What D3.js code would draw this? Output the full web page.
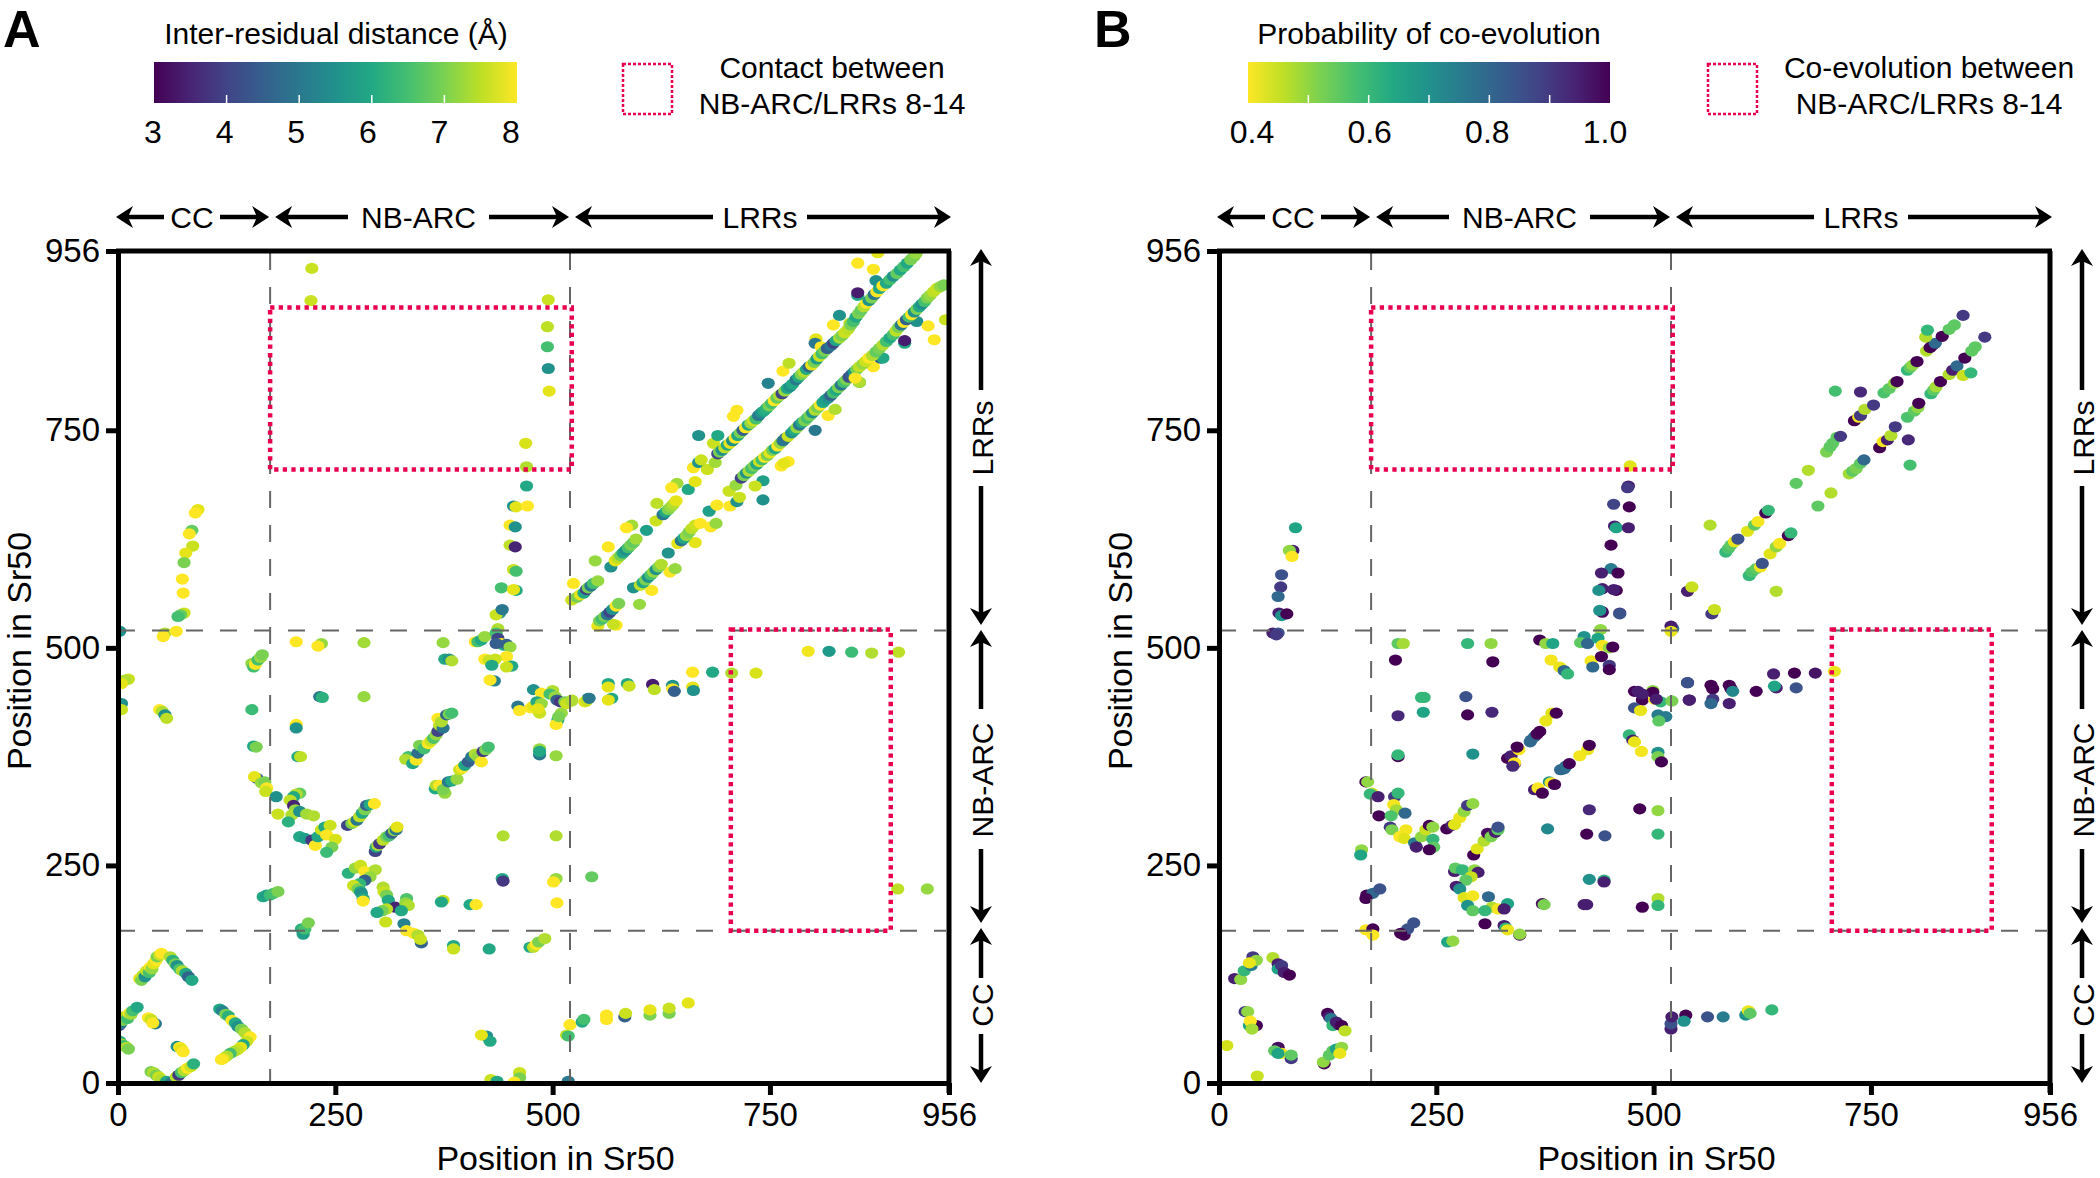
<!DOCTYPE html>
<html lang="en">
<head>
<meta charset="UTF-8">
<script src="https://cdnjs.cloudflare.com/ajax/libs/d3/7.8.5/d3.min.js"></script>
<title>Sr50 contact and co-evolution maps</title>
<style>
  html, body { margin: 0; padding: 0; background: #fff; }
  text { font-family: "Liberation Sans", Arial, sans-serif; fill: #000; }
  .axis path, .axis line { stroke: #000; }
  .axis text { font-size: 33px; font-family: "Liberation Sans", Arial, sans-serif; }
</style>
</head>
<body>
<div id="chart"></div>
<script>
// tick labels and domain boundaries, residues
var axisTicks = [0, 250, 500, 750, 956];
var domainEdges = [175, 520];
var domainNames = ["CC", "NB-ARC", "LRRs"];
var distanceTicks = [3, 4, 5, 6, 7, 8];
var probabilityTicks = [0.4, 0.6, 0.8, 1.0];
var probabilityMinor = [0.5, 0.6, 0.7, 0.8, 0.9];
var boxTop = [175, 522, 705, 891];    // NB-ARC vs LRRs 8-14
var boxRight = [705, 889, 175, 521];

// panel A, each point is [x, y, distance]
var distCcArch = [[25,120,7.8],[27,118,7],[29,124,7.5],[31,122,5.5],[33,129,7.6],[36,127,6.5],[37,133,8],[39,131,7.2],[41,137,7.8],[44,141,8],[45,145,7],[48,147,7.6],[50,149,8],[60,145,7.4],[63,141,6.2],[66,137,7],[68,135,5.5],[71,131,6.5],[74,129,7.4],[78,126,6],[81,122,4.6],[85,118,6]];
var distCcLeft = [[1,66,3.8],[3,68,5],[6,72,7],[9,77,7.5],[11,74,6.5],[13,80,8],[15,79,7.3],[17,83,6.5],[22,87,6],[2,48,6],[4,45,7.2],[7,43,6.5],[10,41,7.4],[12,39,7],[35,75,8],[38,73,7.6],[43,68,5],[40,69,8],[68,42,5.5],[71,41,8],[73,39,7.8],[75,36,8]];
var distCcBottom = [[38,13,7],[41,12,7.4],[44,9,7],[47,7,7.6],[50,4,7.4],[56,2,6],[62,1,5],[67,7,7.5],[70,9,3.8],[73,12,6.5],[76,14,7.4],[80,17,8],[84,19,7.6],[87,22,6.2]];
var distCcRight = [[117,85,6],[120,83,5.2],[124,79,7],[127,77,6.2],[131,72,8],[135,69,6],[138,65,5.5],[142,62,7],[146,58,7.4],[152,53,8],[148,48,7.6],[144,44,6],[141,41,7.8],[137,38,7.6],[133,36,7.4],[129,34,6.5],[125,31,7.4],[121,28,7.8],[119,27,8]];
var distUpperLeft = [[92,659,7.8],[89,655,8],[85,635,6.8],[82,631,8],[86,617,7.6],[78,609,7.8],[76,598,7],[74,579,8],[75,563,8],[76,540,7.6],[72,538,6.8],[69,536,6.5],[54,517,7.4],[52,513,8],[67,519,8],[2,519,5.5],[12,464,7.6],[8,463,7.4],[4,459,7.8],[4,436,5.5],[4,429,7.6],[48,429,8],[51,427,7.4],[54,423,5.5],[56,419,7.5]];
var distCcNb = [[154,482,7.2],[156,478,6.5],[158,481,8],[161,486,6.5],[164,489,7.2],[166,492,7],[154,429,6.4],[156,387,6],[159,386,7],[160,350,4.5],[157,352,7.8],[165,345,7.2],[169,346,7],[171,339,8],[170,335,7.6],[182,329,5.5],[184,309,7.6]];
var distChain1 = [[209,333,6.8],[205,332,7.4],[202,329,6],[198,325,7.5],[202,319,3.5],[204,314,7.2],[200,308,7.4],[196,300,6.2],[209,312,5.5],[217,309,7.3],[225,307,7.4],[209,283,6],[215,281,5.8],[223,279,3.8],[227,273,8],[230,283,6],[234,291,7.6],[238,294,6],[244,296,7.6],[240,285,8],[250,280,7.7],[246,271,7],[240,265,6.4]];
var distSeg2 = [[264,296,4],[269,298,7],[272,300,7.6],[275,302,5],[278,306,7.5],[281,310,6],[284,314,7],[286,319,4.5],[290,320,6],[295,321,8],[296,266,4],[297,271,6],[299,273,7.4],[301,275,3.8],[305,279,7.5],[309,283,7],[312,284,6.5],[315,287,4.5],[318,290,7.2],[320,291,5],[321,294,7.8]];
var distChain2 = [[265,241,6.2],[273,247,7.2],[279,250,7.6],[284,243,8],[296,245,7.4],[290,237,7.2],[284,233,4.5],[278,229,6.3],[271,227,7.6],[276,223,7],[279,220,6],[280,218,5.5],[282,212,6],[282,209,8],[305,225,7.4],[306,220,7.6],[309,216,7],[311,210,6],[319,202,3.5],[309,200,7.5],[304,198,7],[298,196,6],[308,185,7.6],[332,212,6.6],[331,207,7.2],[334,204,7.4],[326,198,6],[329,183,5.2],[332,175,8],[340,172,8],[345,170,7.4],[349,161,4.6],[348,165,7.6],[386,158,6],[386,154,7.6],[427,154,6],[474,156,6],[478,156,7.5],[481,159,8],[484,162,7],[491,166,7.4]];
var distNbSparse = [[205,507,8],[234,505,7.2],[230,502,8],[283,506,7.3],[232,444,5],[235,443,6.2],[283,444,7.2],[205,412,8],[205,408,5.5],[207,375,6],[210,375,7.5],[167,214,6],[171,216,5.8],[175,216,6.4],[179,218,6.5],[184,220,7],[211,177,6.2],[213,171,5.8],[215,177,6.5],[219,184,7],[374,210,7.6],[372,208,6],[405,205,6],[412,205,8],[443,284,7.4],[504,284,7.4],[442,235,6],[443,232,3.8],[504,235,7.2],[501,231,8],[545,237,6.8],[505,207,8],[424,54,5.5],[428,48,6],[418,55,7.8],[429,4,7.6],[436,2,6],[462,12,7.6],[462,6,7],[456,1,8],[518,2,5]];
var distBand1 = [[334,375,6.5],[331,372,7.4],[339,367,6],[343,371,8],[345,379,4.8],[347,388,7],[352,384,6.5],[357,390,8],[360,393,7.6],[363,396,6.6],[366,400,7.2],[368,404,4],[370,411,7.5],[374,408,5],[368,419,8],[372,415,7.4],[378,423,4.6],[381,424,7],[384,425,6.5]];
var distBand2 = [[365,338,6],[366,342,7.4],[370,342,8],[376,333,7.2],[374,337,7],[380,346,5],[384,347,6],[390,349,7.2],[393,360,7.6],[396,362,8],[399,365,6],[403,369,4.5],[407,375,5],[411,378,7.4],[414,375,7.2],[418,369,8],[420,381,3.8],[423,383,7],[426,386,6.5]];
var distNbLrrKnot = [[374,506,7.2],[376,487,6],[381,487,5.5],[384,485,7.4],[411,507,8],[414,507,6.5],[418,509,6],[422,513,7.2],[437,522,7.4],[435,517,6.5],[437,511,4],[441,505,8],[444,503,6],[447,504,4.5],[451,501,7.2],[447,490,8],[453,479,6],[447,478,7.6],[434,487,7.6],[422,487,8],[427,486,7.6],[430,480,6],[433,462,5.2],[428,463,8],[435,505,4.5],[439,540,5.5],[435,538,7.6],[442,544,5],[441,569,6.5],[455,590,7.6],[458,588,6.5],[451,618,7.5],[457,616,3.5],[451,641,8],[457,639,5.5],[455,663,5.5],[458,662,7.8],[471,663,8],[470,686,6],[470,708,7.4],[469,735,7.7],[458,566,6],[455,567,7.8],[495,900,7.6],[494,869,7.5],[494,846,6.5],[495,821,5.5],[496,795,7.8]];
var distNbKnot2 = [[478,452,5.5],[487,448,8],[500,451,7.4],[497,447,6.5],[503,444,7.2],[505,440,4.5],[509,438,3.8],[460,433,5],[462,428,8],[475,431,8],[478,433,7.8],[482,438,6],[487,436,7.2],[485,425,7.6],[483,430,7.8],[510,425,7.2],[506,417,6],[504,412,8],[507,421,7],[522,440,7.4],[514,438,7],[516,436,7.6],[541,442,5.2],[537,438,7.8],[485,384,7.2],[485,377,5],[485,381,6],[504,376,7.2],[522,439,7.4],[539,439,7.6],[542,442,5],[568,442,6],[564,440,7.8]];
var distNbTail = [[564,459,6],[564,455,7.8],[586,459,6],[588,456,7.6],[615,458,3.4],[617,452,7.5],[638,457,5.5],[638,453,8],[640,450,4.5],[661,472,8],[661,455,7.8],[662,451,5.5],[684,472,6],[706,471,7.4],[734,471,7.7],[794,496,7.9],[818,496,5.7],[844,495,6.4],[867,494,7.4],[898,495,7.5],[897,223,7.5],[931,223,7.2]];
var distCcTail = [[520,67,8],[516,55,7.5],[518,54,6.5],[534,70,6],[536,73,6.5],[562,78,8],[562,73,8],[583,76,4.5],[584,80,7.6],[612,78,7],[612,84,7.8],[634,80,7],[634,86,7.6],[656,92,7.8]];
var distLrrSparseTop = [[223,936,7.6],[222,899,7.6]];
var distLrrUpper = [[522,555,7.6],[524,574,8],[528,558,7],[532,561,7.8],[536,563,6],[539,567,4],[541,569,7],[544,571,5],[547,574,6.5],[552,577,7.2],[549,600,7.2],[564,616,8],[567,593,5.5],[572,600,7.8],[575,603,7.5],[578,606,7],[581,609,6],[584,612,5.5],[587,615,6.5],[590,618,7],[593,621,6.8],[596,625,7.3],[591,641,7.3],[585,638,8],[608,635,5.8],[619,646,7.6],[627,653,5],[630,656,6],[633,659,7],[636,662,7.2],[639,665,7.4],[642,669,7.8],[620,666,7.5],[643,689,7.3],[637,684,8],[656,682,6],[664,691,7.8],[662,707,8],[668,713,5.5],[671,716,7.6],[678,705,7.6],[687,713,7.3],[685,735,7.6],[668,744,5.5],[690,744,6],[690,723,4],[692,725,7],[695,727,5.5],[698,730,7.5],[701,733,6],[704,735,7.8],[707,738,5.5],[710,741,8],[713,744,6],[716,747,7],[719,750,4.5],[722,753,8],[725,756,6],[728,758,7.2],[731,761,7.6],[734,763,6.5],[737,767,5],[740,770,5.5],[743,772,6],[708,766,8],[712,773,8],[746,775,6.2],[749,778,7],[752,781,6.5],[755,784,8],[758,787,6.8],[761,790,7.4],[764,792,4],[767,795,7.2],[770,798,6],[773,800,5.5],[776,803,6],[748,804,5.2],[765,818,8],[772,827,7.5],[780,808,5],[783,811,6],[786,814,7],[789,817,7.4],[792,820,6],[795,823,4.6],[798,825,7.8],[801,828,7],[803,855,7.8],[802,850,5],[809,846,8],[804,832,5.8],[807,835,7.6],[810,838,6.5],[813,841,7],[816,844,4.5],[820,847,5],[823,850,4],[826,853,6],[830,856,7.3],[833,859,7],[823,871,8],[830,882,5.5],[842,873,7.5],[836,862,7.6],[840,866,7.5],[843,871,7],[846,875,6.5],[849,880,6],[852,884,7],[855,888,6.8],[858,892,7.4],[861,896,8],[864,899,5.5],[867,902,7],[870,906,5],[873,909,8],[876,913,6],[851,905,6],[851,908,3.4],[872,922,5.5],[869,935,8],[851,942,8],[874,954,7.8],[880,916,8],[884,919,6],[888,923,6.5],[892,927,5.5],[896,930,6.8],[900,934,6],[904,938,6.5],[908,942,6],[912,946,7],[916,950,7],[918,953,7.2]];
var distLrrLower = [[552,525,7.8],[573,526,8],[570,527,7.6],[554,531,7],[557,533,6.5],[560,536,7],[563,538,5],[566,541,4],[569,544,5.5],[573,548,8],[576,551,7],[600,550,7.2],[593,569,5.5],[614,566,8],[635,587,8],[641,591,7.2],[601,572,7.5],[604,575,6],[607,578,7],[610,581,5.5],[613,584,6.5],[616,587,7.2],[619,590,5.5],[622,593,7],[625,596,7.4],[633,609,5.5],[644,620,7.8],[664,621,7.8],[648,623,5],[651,626,6],[654,629,7.2],[657,633,7],[660,637,7.5],[664,641,7.6],[670,643,8],[682,639,8],[688,643,7.2],[680,657,5.8],[689,664,8],[704,663,8],[712,668,5.5],[715,673,7.6],[703,680,7.6],[711,687,7.2],[742,692,5.8],[733,686,7.6],[742,670,5.5],[717,695,4],[720,698,7],[723,701,5.5],[726,703,7.4],[729,706,6.5],[732,709,7],[735,711,6],[738,714,7.6],[741,716,6.5],[744,719,8],[747,721,7],[750,724,7.8],[753,727,7],[756,729,6],[759,732,8],[762,735,7.2],[765,738,5],[768,741,4.8],[771,743,7.6],[775,747,5.5],[763,709,8],[771,714,8],[766,712,7.8],[778,750,6],[781,753,7.2],[784,756,5],[787,759,6],[790,761,7],[793,764,6.5],[796,767,7],[799,770,5.5],[802,773,7.4],[805,776,7],[808,779,8],[802,750,5],[817,767,8],[825,774,7.4],[811,782,6],[814,785,5.8],[817,787,5.5],[820,790,4.6],[823,793,6.5],[826,796,6],[829,799,7],[832,802,5],[835,805,6.5],[838,808,7],[841,811,4.2],[844,814,4.5],[847,817,5.5],[850,820,7],[853,805,6],[853,805,7.4],[848,810,8],[869,823,8],[877,833,4.5],[880,833,6],[853,823,7.5],[857,826,7.2],[860,829,7.6],[864,833,8],[868,836,7.4],[872,840,6.8],[876,844,7],[880,848,7.4],[884,852,6.5],[888,856,6],[905,850,6],[905,853,3.4],[919,875,5.5],[932,870,8],[939,854,8],[952,877,7.6],[892,860,6.5],[895,864,7.5],[898,868,7],[901,871,5],[904,874,8],[907,877,4.5],[910,880,6.5],[913,883,8],[916,886,5.5],[919,889,7],[922,892,6],[925,895,5.5],[928,898,6.5],[931,902,7],[934,905,7.2],[938,909,7.5],[942,913,7.6],[946,915,7.2],[950,917,7]];

// panel B, each point is [x, y, probability]
var probCcArch = [[18,120,0.95],[25,119,0.5],[29,129,0.6],[37,135,0.75],[39,145,0.9],[43,141,0.5],[35,138,0.42],[62,144,0.47],[68,137,0.95],[68,131,0.65],[72,135,0.9],[75,127,0.95],[81,124,1]];
var probCcInner = [[30,82,0.9],[33,82,0.5],[43,66,1],[35,66,0.65],[36,71,0.4],[38,62,0.48],[9,43,0.44],[44,8,0.45],[68,41,0.98],[64,37,0.55],[72,34,0.41],[68,34,0.65],[83,28,0.9],[83,32,0.55]];
var probCcRight = [[125,80,1],[127,76,0.95],[129,74,0.75],[131,66,0.6],[135,70,0.95],[138,67,0.95],[141,66,1],[145,60,0.46],[121,22,1],[120,24,0.5],[127,32,0.55],[131,37,0.55],[135,39,0.65],[141,41,0.5],[139,34,0.42]];
var probUpper = [[88,638,0.65],[85,612,0.95],[81,612,0.5],[84,605,0.4],[72,584,0.85],[71,570,0.9],[68,559,0.8],[69,540,0.95],[72,537,0.7],[78,539,1],[62,517,0.95],[68,517,0.85],[66,515,0.9]];
var probCcNb = [[169,346,1],[171,346,0.5],[176,333,0.45],[174,332,0.6],[183,329,0.95],[184,307,1],[164,268,0.5],[163,262,0.65],[170,216,1],[177,218,0.8],[185,223,0.85],[169,212,1],[169,176,0.4],[177,177,1],[177,170,0.4],[213,170,1],[217,177,0.85],[224,184,0.85],[209,172,1],[263,162,0.65],[269,163,0.5]];
var probSparse = [[206,505,0.55],[212,505,0.48],[203,486,1],[286,505,0.6],[313,505,0.5],[315,484,1],[233,443,0.6],[236,443,0.6],[235,426,0.65],[206,422,0.93],[284,444,0.85],[286,423,1],[314,426,0.93],[206,375,1],[206,377,0.6],[292,378,0.7],[426,234,0.7],[443,233,0.62],[443,231,0.95],[378,292,0.72],[423,286,1],[444,284,0.85],[505,286,0.6],[426,314,0.93],[484,315,1],[505,313,0.5],[372,206,0.98],[374,205,0.52],[420,205,0.95],[423,205,0.95],[487,202,1],[505,212,0.47],[505,204,0.6],[473,709,0.43]];
var probChain1 = [[202,329,0.9],[206,333,0.6],[201,320,0.41],[204,314,0.48],[198,307,0.57],[214,310,0.8],[197,294,0.9],[199,291,0.52],[208,283,0.4],[215,291,0.41],[213,281,0.43],[225,276,0.75],[227,271,0.95],[233,283,0.5],[238,291,0.45],[242,296,1],[246,294,0.5],[246,280,0.6],[247,271,0.55],[242,268,1]];
var probSeg2 = [[262,292,1],[268,296,0.95],[271,297,0.43],[277,305,0.42],[282,312,0.5],[286,319,0.9],[292,321,0.5],[293,262,1],[297,269,0.43],[305,278,0.47],[309,287,0.98],[313,283,0.52],[318,288,0.95],[321,291,0.55],[321,294,0.85]];
var probChain2 = [[271,243,0.95],[272,247,0.55],[280,245,0.6],[294,245,0.5],[298,242,0.95],[290,237,0.45],[284,233,0.55],[273,226,0.95],[277,223,0.7],[282,213,0.43],[292,215,0.41],[286,204,0.7],[292,198,0.55],[310,214,0.8],[314,202,0.47],[321,200,0.41],[306,198,0.6],[332,206,0.65],[328,200,0.95],[306,183,1],[328,181,0.95],[330,178,0.6],[332,176,0.42],[346,170,1],[346,171,0.5]];
var probBand1 = [[332,373,1],[336,376,0.95],[340,367,1],[340,368,0.4],[338,364,0.93],[345,383,0.41],[343,386,1],[358,392,0.8],[359,394,0.8],[363,398,0.8],[366,401,1],[369,404,1],[376,416,0.42],[383,425,0.43],[388,425,1]];
var probBand2 = [[363,337,0.95],[367,339,0.4],[372,333,1],[380,346,0.7],[382,345,0.41],[386,343,1],[393,360,0.8],[397,361,0.8],[399,364,0.78],[403,367,1],[415,376,0.41],[424,383,0.42],[426,388,1]];
var probKnot = [[369,509,1],[376,505,0.5],[384,505,0.65],[382,486,0.41],[392,478,0.42],[397,474,0.8],[401,470,0.6],[420,513,0.7],[416,506,0.55],[424,505,0.8],[428,485,0.41],[430,478,0.8],[439,521,0.5],[436,511,0.65],[440,490,1],[441,503,0.41],[449,500,0.5],[453,501,1],[449,480,0.9],[449,475,1],[440,542,1],[461,540,0.9]];
var probColumn = [[471,686,0.95],[470,684,0.9],[454,665,0.88],[472,662,1],[455,640,0.95],[457,638,0.65],[471,638,0.95],[451,618,1],[451,591,0.75],[459,586,1],[440,586,0.95],[457,566,1],[454,567,0.95],[441,568,0.95],[437,566,0.7],[461,539,0.85],[441,541,0.98],[438,543,0.7]];
var probNbLrr = [[522,522,0.8],[520,525,0.95],[520,519,0.42],[478,450,1],[482,450,0.95],[487,440,1],[478,431,0.85],[485,428,0.42],[499,451,0.5],[501,441,0.4],[508,438,0.6],[521,439,0.52],[539,460,0.9],[541,440,1],[505,423,0.75],[514,421,0.75],[506,416,0.55],[472,400,0.6],[476,394,0.95],[478,392,0.42],[486,381,0.41],[505,380,0.7],[505,375,0.52],[509,369,1],[499,449,1],[487,447,0.95],[503,441,0.95]];
var probNbTail = [[539,460,0.85],[541,440,0.95],[566,457,1],[568,453,1],[568,441,0.9],[566,436,0.8],[587,457,1],[589,453,1],[591,450,0.72],[587,436,0.95],[618,450,1],[638,470,0.95],[662,471,1],[686,471,0.97],[708,473,0.42],[641,454,0.95],[639,456,0.65],[664,454,0.85]];
var probCcTail = [[520,62,0.95],[520,68,0.85],[521,76,0.95],[537,78,1],[535,71,0.7],[562,76,0.85],[580,76,0.75],[606,78,0.7],[609,83,0.42],[611,80,0.55],[636,84,0.6]];
var probLrrUpper = [[539,565,0.95],[544,570,0.45],[567,539,0.9],[570,544,0.45],[565,641,0.47],[641,565,0.47],[583,610,0.6],[586,614,0.57],[589,618,0.55],[593,622,0.42],[597,625,0.85],[608,634,0.43],[616,641,0.55],[620,645,0.41],[629,655,1],[632,658,0.6],[664,689,0.55],[678,704,0.47],[699,725,0.52],[703,731,0.55],[706,735,0.55],[711,742,0.55],[715,743,0.9],[731,761,1],[736,765,0.41],[738,767,0.9],[743,774,0.47],[753,779,0.9],[738,794,0.93],[709,795,0.58],[765,793,0.57],[771,798,0.55],[777,804,0.5],[780,806,1],[792,819,0.6],[795,822,0.55],[798,825,0.5],[803,829,1],[814,841,0.47],[818,845,1],[821,848,1],[824,850,0.8],[813,857,0.47],[815,865,0.6],[832,858,1],[840,866,0.55],[846,871,0.55],[856,882,0.9]];
var probLrrLower = [[610,583,0.6],[613,587,0.57],[618,591,0.55],[623,593,0.41],[625,597,0.85],[634,608,0.43],[641,616,0.5],[645,620,0.41],[655,629,1],[658,632,0.6],[689,663,0.55],[704,678,0.47],[725,700,0.48],[729,703,0.55],[733,706,0.52],[738,712,0.55],[742,716,0.8],[760,730,1],[764,737,0.41],[769,739,0.95],[773,744,0.47],[778,754,0.9],[793,739,0.93],[795,710,0.58],[792,765,0.57],[800,772,0.55],[804,776,0.5],[805,781,1],[819,792,0.6],[822,796,0.55],[825,800,0.48],[830,806,1],[840,814,0.47],[844,819,0.95],[849,824,0.8],[856,813,0.45],[865,816,0.6],[858,833,1],[866,841,0.55],[870,846,0.55],[881,857,0.9]];

var width = 2100, height = 1178;
var plotW = 831, plotH = 832;
var plotTop = 251;
var panelA = 118, panelB = 1219;   // left edge of each plot

var svg = d3.select("#chart").append("svg")
  .attr("width", width)
  .attr("height", height)
  .style("display", "block");

var xScale = d3.scaleLinear().domain([0, 956]).range([0, plotW]);
var yScale = d3.scaleLinear().domain([0, 956]).range([plotH, 0]);

var distColor = d3.scaleSequential(d3.interpolateViridis).domain([3, 8]);
var probColor = d3.scaleSequential(d3.interpolateViridis).domain([1, 0.4]);

var distPoints = [].concat(distCcArch, distCcLeft, distCcBottom, distCcRight, distUpperLeft, distCcNb,
  distChain1, distSeg2, distChain2, distNbSparse, distBand1, distBand2, distNbLrrKnot, distNbKnot2,
  distNbTail, distCcTail, distLrrSparseTop, distLrrUpper, distLrrLower);
var probPoints = [].concat(probCcArch, probCcInner, probCcRight, probUpper, probCcNb, probSparse,
  probChain1, probSeg2, probChain2, probBand1, probBand2, probKnot, probColumn, probNbLrr, probNbTail,
  probCcTail, probLrrUpper, probLrrLower);

var defs = svg.append("defs");
defs.append("clipPath").attr("id", "plotClip")
  .append("rect").attr("width", plotW).attr("height", plotH);

// arrow head with the tip at 0,0 pointing left, swept back barbs
var headPath = "M0,0 L17,-11 L12,0 L17,11 Z";

function hArrow(g, x0, x1, y) {
  g.append("line").attr("x1", x0).attr("x2", x1).attr("y1", y).attr("y2", y)
    .attr("stroke", "#000").attr("stroke-width", 4.5);
}
function arrowHead(g, x, y, angle) {
  g.append("path").attr("d", headPath)
    .attr("transform", "translate(" + x + "," + y + ") rotate(" + angle + ")")
    .attr("fill", "#000");
}

function drawPanel(left, points, color) {
  var g = svg.append("g").attr("transform", "translate(" + left + "," + plotTop + ")");

  g.append("g").attr("clip-path", "url(#plotClip)")
    .selectAll("ellipse")
    .data(points)
    .enter()
    .append("ellipse")
    .attr("cx", function(d) { return xScale(d[0]); })
    .attr("cy", function(d) { return yScale(d[1]); })
    .attr("rx", 6.6)
    .attr("ry", 5.6)
    .attr("fill", function(d) { return color(d[2]); });

  // domain boundaries
  domainEdges.forEach(function(e) {
    g.append("line").attr("x1", xScale(e)).attr("x2", xScale(e)).attr("y1", 2).attr("y2", plotH)
      .attr("stroke", "#666").attr("stroke-width", 2).attr("stroke-dasharray", "17 17");
    g.append("line").attr("x1", 0).attr("x2", plotW - 3).attr("y1", yScale(e)).attr("y2", yScale(e))
      .attr("stroke", "#666").attr("stroke-width", 2).attr("stroke-dasharray", "17 17");
  });

  // the two boxes
  [boxTop, boxRight].forEach(function(b) {
    g.append("rect")
      .attr("x", xScale(b[0]))
      .attr("y", yScale(b[3]))
      .attr("width", xScale(b[1]) - xScale(b[0]))
      .attr("height", yScale(b[2]) - yScale(b[3]))
      .attr("fill", "none")
      .attr("stroke", "#e8004f")
      .attr("stroke-width", 4.5)
      .attr("stroke-dasharray", "4.3 4.3");
  });

  // frame
  g.append("line").attr("x1", -2).attr("x2", plotW + 2).attr("y1", 0).attr("y2", 0)
    .attr("stroke", "#000").attr("stroke-width", 5);
  g.append("line").attr("x1", plotW).attr("x2", plotW).attr("y1", 0).attr("y2", plotH + 10)
    .attr("stroke", "#000").attr("stroke-width", 5);

  g.append("g").attr("class", "axis")
    .attr("transform", "translate(0," + plotH + ")")
    .call(d3.axisBottom(xScale).tickValues(axisTicks).tickFormat(d3.format("d")).tickSize(12).tickSizeOuter(0).tickPadding(8));
  g.append("g").attr("class", "axis")
    .call(d3.axisLeft(yScale).tickValues(axisTicks).tickFormat(d3.format("d")).tickSize(12).tickSizeOuter(0).tickPadding(6));
  g.selectAll(".axis path").attr("stroke-width", 5);
  g.selectAll(".axis line").attr("stroke-width", 5);
  g.selectAll(".axis text").attr("fill", "#000");

  g.append("text")
    .attr("x", plotW / 2 + 22)
    .attr("y", plotH + 87)
    .attr("text-anchor", "middle")
    .style("font-size", "34px")
    .text("Position in Sr50");

  g.append("text")
    .attr("transform", "translate(-87," + (plotH / 2 - 16) + ") rotate(-90)")
    .attr("text-anchor", "middle")
    .style("font-size", "34px")
    .text("Position in Sr50");

  // domain arrows on top
  var topY = -34;
  var ends = [0, xScale(domainEdges[0]), xScale(domainEdges[1]), plotW];
  var topGaps = [[46, 102], [230, 371], [595, 689]];
  domainNames.forEach(function(name, i) {
    var tipA = ends[i] + (i ? 5 : -2), tipB = ends[i + 1] + (i == 2 ? 2 : -1);
    var gap = topGaps[i];
    hArrow(g, tipA + 6, gap[0], topY);
    hArrow(g, gap[1], tipB - 6, topY);
    arrowHead(g, tipA, topY, 0);
    arrowHead(g, tipB, topY, 180);
    g.append("text")
      .attr("x", (gap[0] + gap[1]) / 2)
      .attr("y", topY + 11)
      .attr("text-anchor", "middle")
      .style("font-size", "30px")
      .text(name);
  });

  // domain arrows on the right
  var rightX = plotW + 32;
  var rightSegs = [
    { name: "LRRs", a: -2, b: 139, c: 235, d: 374, mid: 187 },
    { name: "NB-ARC", a: 379, b: 458, c: 598, d: 672, mid: 529 },
    { name: "CC", a: 677, b: 727, c: 783, d: 832, mid: 754 }
  ];
  rightSegs.forEach(function(s) {
    g.append("line").attr("x1", rightX).attr("x2", rightX).attr("y1", s.a + 6).attr("y2", s.b)
      .attr("stroke", "#000").attr("stroke-width", 4.5);
    g.append("line").attr("x1", rightX).attr("x2", rightX).attr("y1", s.c).attr("y2", s.d - 6)
      .attr("stroke", "#000").attr("stroke-width", 4.5);
    arrowHead(g, rightX, s.a, 90);
    arrowHead(g, rightX, s.d, -90);
    g.append("text")
      .attr("transform", "translate(" + (rightX + 12) + "," + s.mid + ") rotate(-90)")
      .attr("text-anchor", "middle")
      .style("font-size", "30px")
      .text(s.name);
  });
}

drawPanel(panelA, distPoints, distColor);
drawPanel(panelB, probPoints, probColor);

// colour bars
function colorBar(id, x0, x1, domain, color, title, titleX, labels, labelRange, minor, fmt) {
  var scale = d3.scaleLinear().domain(domain).range([x0, x1]);
  var labelScale = d3.scaleLinear().domain(domain).range(labelRange);
  var grad = defs.append("linearGradient").attr("id", id);
  d3.range(0, 1.0001, 0.1).forEach(function(t) {
    var v = domain[0] + t * (domain[1] - domain[0]);
    grad.append("stop").attr("offset", t).attr("stop-color", color(v));
  });
  svg.append("rect").attr("x", x0).attr("y", 62).attr("width", x1 - x0).attr("height", 41)
    .attr("fill", "url(#" + id + ")");
  minor.forEach(function(v) {
    svg.append("line").attr("x1", scale(v)).attr("x2", scale(v)).attr("y1", 95).attr("y2", 103)
      .attr("stroke", "#fff").attr("stroke-width", 1.5);
  });
  labels.forEach(function(v) {
    svg.append("text").attr("x", labelScale(v)).attr("y", 143)
      .attr("text-anchor", "middle").style("font-size", "32px").text(fmt(v));
  });
  svg.append("text").attr("x", titleX).attr("y", 44)
    .attr("text-anchor", "middle").style("font-size", "30px").text(title);
}

colorBar("distGrad", 154, 517, [3, 8], distColor, "Inter-residual distance (Å)", 336,
  distanceTicks, [153, 511], [4, 5, 6, 7], d3.format("d"));
colorBar("probGrad", 1248, 1610, [0.4, 1.0], probColor, "Probability of co-evolution", 1429,
  probabilityTicks, [1252, 1605], probabilityMinor, d3.format(".1f"));

// box legends
function boxLegend(x0, line1, line2, textX) {
  svg.append("rect").attr("x", x0).attr("y", 64).attr("width", 49).attr("height", 50)
    .attr("fill", "none").attr("stroke", "#e8004f").attr("stroke-width", 2.5)
    .attr("stroke-dasharray", "3 2");
  svg.append("text").attr("x", textX).attr("y", 78)
    .attr("text-anchor", "middle").style("font-size", "30px").text(line1);
  svg.append("text").attr("x", textX).attr("y", 114)
    .attr("text-anchor", "middle").style("font-size", "30px").text(line2);
}
boxLegend(623, "Contact between", "NB-ARC/LRRs 8-14", 832);
boxLegend(1708, "Co-evolution between", "NB-ARC/LRRs 8-14", 1929);

// panel letters
svg.append("text").attr("x", 3).attr("y", 47).style("font-size", "52px").style("font-weight", "bold").text("A");
svg.append("text").attr("x", 1094).attr("y", 47).style("font-size", "52px").style("font-weight", "bold").text("B");
</script>
</body>
</html>
